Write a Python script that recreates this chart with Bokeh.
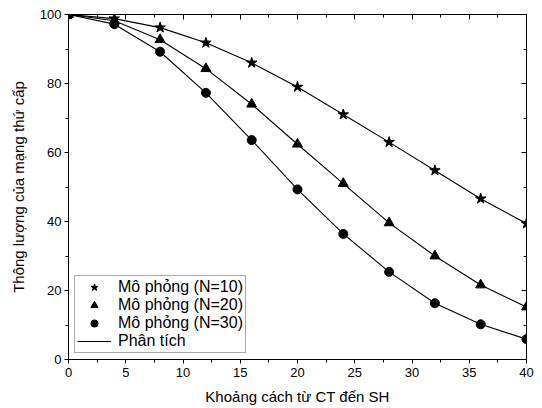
from bokeh.plotting import figure
from bokeh.models import LinearAxis, Legend, LegendItem, Range1d, FixedTicker
from bokeh.embed import file_html
from bokeh.resources import INLINE

distance = [0, 4, 8, 12, 16, 20, 24, 28, 32, 36, 40]
n10 = [100, 98.8, 96.2, 91.8, 86.0, 79.0, 71.0, 63.0, 54.8, 46.6, 39.4]
n20 = [100, 98.2, 92.7, 84.3, 74.0, 62.4, 51.0, 39.6, 30.0, 21.6, 15.2]
n30 = [100, 97.2, 89.2, 77.3, 63.6, 49.3, 36.4, 25.4, 16.3, 10.2, 5.9]

x_ticks = [0, 5, 10, 15, 20, 25, 30, 35, 40]
x_minor = [2.5, 7.5, 12.5, 17.5, 22.5, 27.5, 32.5, 37.5]
y_ticks = [0, 20, 40, 60, 80, 100]
y_minor = [10, 30, 50, 70, 90]

x_label = "Khoảng cách từ CT đến SH"
y_label = "Thông lượng của mạng thứ cấp"
labels = ["Mô phỏng (N=10)", "Mô phỏng (N=20)", "Mô phỏng (N=30)", "Phân tích"]

FONT = "Liberation Sans"

p = figure(width=542, height=408, output_backend="svg", toolbar_location=None,
           x_range=Range1d(0, 40), y_range=Range1d(0, 100),
           min_border_left=68, min_border_right=16, min_border_top=14, min_border_bottom=49,
           x_axis_label=x_label, y_axis_label=y_label)
p.grid.visible = False
p.outline_line_color = "#333333"
p.background_fill_color = "white"
p.border_fill_color = "white"

for ax in (p.xaxis[0], p.yaxis[0]):
    ax.axis_line_color = "black"
    ax.major_tick_line_color = "black"
    ax.minor_tick_line_color = "black"
    ax.major_tick_in = 0
    ax.major_tick_out = 4
    ax.minor_tick_in = 0
    ax.minor_tick_out = 3
    ax.major_label_text_font = FONT
    ax.major_label_text_font_size = "13px"
    ax.major_label_text_color = "black"
    ax.axis_label_text_font = FONT
    ax.axis_label_text_font_size = "15px"
    ax.axis_label_text_font_style = "normal"
    ax.axis_label_text_color = "black"

p.xaxis[0].ticker = FixedTicker(ticks=x_ticks, minor_ticks=x_minor)
p.yaxis[0].ticker = FixedTicker(ticks=y_ticks, minor_ticks=y_minor)
p.xaxis[0].major_label_standoff = 4
p.xaxis[0].axis_label_standoff = 8
p.yaxis[0].major_label_standoff = 3
p.yaxis[0].axis_label_standoff = 10

top = LinearAxis(ticker=FixedTicker(ticks=x_ticks, minor_ticks=x_minor))
right = LinearAxis(ticker=FixedTicker(ticks=y_ticks, minor_ticks=y_minor))
for ax in (top, right):
    ax.major_tick_in = 5
    ax.major_tick_out = 0
    ax.minor_tick_in = 3
    ax.minor_tick_out = 0
    ax.major_label_text_font_size = "0px"
    ax.major_label_text_color = None
    ax.major_label_standoff = 0
    ax.axis_line_color = "black"
p.add_layout(top, "above")
p.add_layout(right, "right")

lines = []
for ys in (n10, n20, n30):
    lines.append(p.line(distance, ys, line_color="black", line_width=1.1))

s1 = p.scatter(distance, n10, marker="star", size=11, color="black")
s2 = p.scatter(distance, n20, marker="triangle", size=10, color="black")
s3 = p.scatter(distance, n30, marker="circle", size=9, color="black")

legend = Legend(items=[LegendItem(label=labels[0], renderers=[s1]),
                       LegendItem(label=labels[1], renderers=[s2]),
                       LegendItem(label=labels[2], renderers=[s3]),
                       LegendItem(label=labels[3], renderers=[lines[0]])],
                location="bottom_left")
legend.label_text_font = FONT
legend.label_text_font_size = "16px"
legend.label_text_color = "black"
legend.border_line_color = "#555555"
legend.border_line_width = 1
legend.glyph_width = 34
legend.glyph_height = 18
legend.label_height = 18
legend.spacing = 0
legend.padding = 2
legend.margin = 6
legend.label_standoff = 7
legend.background_fill_alpha = 1
p.add_layout(legend)

open("out.html", "w").write(file_html(p, INLINE))
